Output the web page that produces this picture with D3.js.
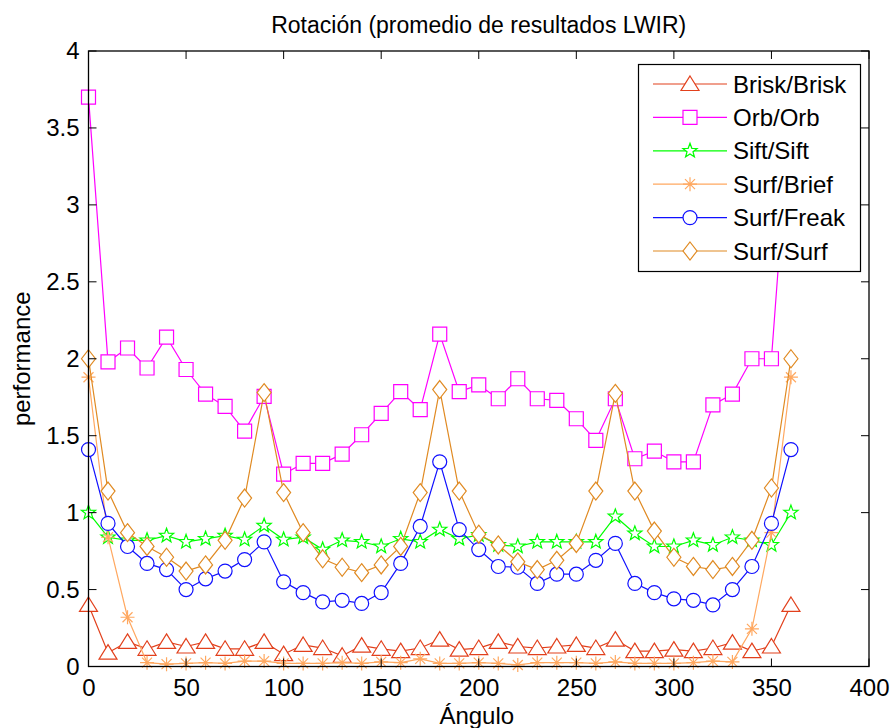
<!DOCTYPE html>
<html>
<head>
<meta charset="utf-8">
<script src="https://cdn.jsdelivr.net/npm/d3@7/dist/d3.min.js"></script>
<style>
  html, body { margin: 0; padding: 0; background: #fff; }
  svg { display: block; font-family: "Liberation Sans", Arial, sans-serif; }
</style>
</head>
<body>
<svg id="chart" width="891" height="728"></svg>
<script>
// ---- data ----
const angles = [0,10,20,30,40,50,60,70,80,90,100,110,120,130,140,150,160,170,180,
                190,200,210,220,230,240,250,260,270,280,290,300,310,320,330,340,350,360];
const xTicks = [0,50,100,150,200,250,300,350,400];
const yTicks = [0,0.5,1,1.5,2,2.5,3,3.5,4];
const yTickLabels = ["0","0.5","1","1.5","2","2.5","3","3.5","4"];
const seriesNames = ["Brisk/Brisk","Orb/Orb","Sift/Sift","Surf/Brief","Surf/Freak","Surf/Surf"];

const briskBrisk = [0.40,0.09,0.16,0.115,0.16,0.13,0.16,0.115,0.115,0.16,0.08,0.14,0.12,0.07,0.136,0.115,0.10,0.12,0.175,
                    0.11,0.12,0.16,0.13,0.12,0.13,0.14,0.12,0.175,0.10,0.10,0.11,0.10,0.12,0.155,0.10,0.13,0.40];
const orbOrb     = [3.70,1.98,2.07,1.94,2.14,1.93,1.77,1.69,1.53,1.755,1.25,1.32,1.32,1.38,1.506,1.645,1.786,1.67,2.16,
                    1.786,1.83,1.74,1.87,1.74,1.73,1.61,1.47,1.74,1.35,1.40,1.33,1.33,1.70,1.77,2.00,2.00,3.70];
const siftSift   = [1.00,0.84,0.82,0.82,0.85,0.81,0.83,0.85,0.825,0.915,0.825,0.84,0.76,0.82,0.81,0.78,0.83,0.81,0.89,
                    0.83,0.855,0.79,0.78,0.81,0.81,0.81,0.81,0.975,0.865,0.78,0.78,0.82,0.79,0.84,0.82,0.79,1.00];
const surfBrief  = [1.88,0.84,0.32,0.025,0.015,0.02,0.025,0.02,0.035,0.035,0.02,0.02,0.02,0.025,0.02,0.03,0.025,0.05,0.02,
                    0.02,0.025,0.02,0.01,0.025,0.025,0.025,0.02,0.03,0.02,0.02,0.02,0.025,0.035,0.03,0.245,0.87,1.88];
const surfFreak  = [1.41,0.93,0.78,0.67,0.63,0.50,0.57,0.62,0.695,0.81,0.55,0.48,0.42,0.43,0.41,0.48,0.67,0.91,1.33,
                    0.89,0.76,0.65,0.645,0.54,0.60,0.60,0.69,0.80,0.54,0.48,0.44,0.43,0.40,0.50,0.65,0.93,1.41];
const surfSurf   = [2.00,1.14,0.87,0.78,0.71,0.62,0.66,0.82,1.095,1.78,1.13,0.87,0.70,0.645,0.61,0.66,0.78,1.13,1.80,
                    1.14,0.86,0.79,0.68,0.63,0.69,0.80,1.14,1.775,1.14,0.88,0.71,0.65,0.63,0.65,0.82,1.16,2.00];

const seriesValues = [briskBrisk, orbOrb, siftSift, surfBrief, surfFreak, surfSurf];
const seriesColors = ["#e2401c", "#ff00ff", "#00ff00", "#ffa860", "#1010ff", "#e08a22"];
const seriesMarkers = ["triangle", "square", "star", "asterisk", "circle", "diamond"];

// ---- layout ----
const svg = d3.select("#chart");
const x = d3.scaleLinear().domain([0, 400]).range([88.5, 869]);
const y = d3.scaleLinear().domain([0, 4]).range([666.5, 51]);
const FONT = 24;

function markerPath(type) {
  switch (type) {
    case "triangle": return "M0,-8 L9,6.5 L-9,6.5 Z";
    case "square": return "M-7,-7 L7,-7 L7,7 L-7,7 Z";
    case "diamond": return "M0,-9 L7,0 L0,9 L-7,0 Z";
    case "circle": return d3.symbol(d3.symbolCircle, Math.PI * 7 * 7)();
    case "star": {
      const pts = [];
      for (let i = 0; i < 10; i++) {
        const r = i % 2 === 0 ? 7.5 : 3.1;
        const a = -Math.PI / 2 + i * Math.PI / 5;
        pts.push([r * Math.cos(a), r * Math.sin(a)]);
      }
      return "M" + pts.map(p => p[0].toFixed(2) + "," + p[1].toFixed(2)).join("L") + "Z";
    }
    case "asterisk": return "M-7,0L7,0M0,-7L0,7M-5,-5L5,5M-5,5L5,-5";
  }
}

const plot = svg.append("g");
const line = d3.line().x((d, i) => x(angles[i])).y(d => y(d));

seriesValues.forEach((vals, si) => {
  const g = plot.append("g");
  g.append("path").attr("d", line(vals)).attr("fill", "none")
    .attr("stroke", seriesColors[si]).attr("stroke-width", 1.2);
  const filled = seriesMarkers[si] !== "asterisk";
  g.selectAll("path.m").data(vals).join("path").attr("class", "m")
    .attr("d", markerPath(seriesMarkers[si]))
    .attr("transform", (d, i) => `translate(${x(angles[i])},${y(d)})`)
    .attr("fill", filled ? "#fff" : "none")
    .attr("stroke", seriesColors[si]).attr("stroke-width", 1.2);
});

// axes box and ticks
const axisG = svg.append("g");
axisG.append("rect").attr("x", x(0)).attr("y", y(4)).attr("width", x(400) - x(0)).attr("height", y(0) - y(4))
  .attr("fill", "none").attr("stroke", "#000").attr("stroke-width", 1.3);

const bottomAxis = d3.axisBottom(x).tickValues(xTicks).tickSize(0).tickPadding(12).tickFormat(d3.format("d"));
const gb = axisG.append("g").attr("transform", `translate(0,${y(0)})`).call(bottomAxis);
gb.select(".domain").remove();
gb.selectAll("text").attr("font-size", FONT).attr("font-family", "Liberation Sans, Arial, sans-serif").attr("fill", "#000");

const leftAxis = d3.axisLeft(y).tickValues(yTicks).tickSize(0).tickPadding(9)
  .tickFormat((d, i) => yTickLabels[i]);
const gl = axisG.append("g").attr("transform", `translate(${x(0)},0)`).call(leftAxis);
gl.select(".domain").remove();
gl.selectAll("text").attr("font-size", FONT).attr("font-family", "Liberation Sans, Arial, sans-serif").attr("fill", "#000");

const TL = 8;
xTicks.forEach(t => {
  axisG.append("line").attr("x1", x(t)).attr("x2", x(t)).attr("y1", y(0)).attr("y2", y(0) - TL).attr("stroke", "#000");
  axisG.append("line").attr("x1", x(t)).attr("x2", x(t)).attr("y1", y(4)).attr("y2", y(4) + TL).attr("stroke", "#000");
});
yTicks.forEach(t => {
  axisG.append("line").attr("x1", x(0)).attr("x2", x(0) + TL).attr("y1", y(t)).attr("y2", y(t)).attr("stroke", "#000");
  axisG.append("line").attr("x1", x(400)).attr("x2", x(400) - TL).attr("y1", y(t)).attr("y2", y(t)).attr("stroke", "#000");
});

// title and labels
svg.append("text").attr("x", (x(0) + x(400)) / 2).attr("y", 33).attr("text-anchor", "middle")
  .attr("font-size", 23).text("Rotación (promedio de resultados LWIR)");
svg.append("text").attr("x", (x(0) + x(400)) / 2 - 2).attr("y", 724).attr("text-anchor", "middle")
  .attr("font-size", FONT).text("Ángulo");
svg.append("text").attr("transform", `translate(30,${(y(0) + y(4)) / 2}) rotate(-90)`).attr("text-anchor", "middle")
  .attr("font-size", FONT).text("performance");

// legend
const lg = svg.append("g");
lg.append("rect").attr("x", 638.5).attr("y", 64.5).attr("width", 222).attr("height", 207)
  .attr("fill", "#fff").attr("stroke", "#000").attr("stroke-width", 1.2);
const legendY = d3.scalePoint().domain(seriesNames).range([84, 251]);
seriesNames.forEach((name, si) => {
  const cy = legendY(name);
  lg.append("line").attr("x1", 653).attr("x2", 727).attr("y1", cy).attr("y2", cy)
    .attr("stroke", seriesColors[si]).attr("stroke-width", 1.2);
  lg.append("path").attr("d", markerPath(seriesMarkers[si]))
    .attr("transform", `translate(690,${cy})`)
    .attr("fill", seriesMarkers[si] !== "asterisk" ? "#fff" : "none")
    .attr("stroke", seriesColors[si]).attr("stroke-width", 1.2);
  lg.append("text").attr("x", 733).attr("y", cy + 8.5).attr("font-size", FONT).text(name);
});
</script>
</body>
</html>
